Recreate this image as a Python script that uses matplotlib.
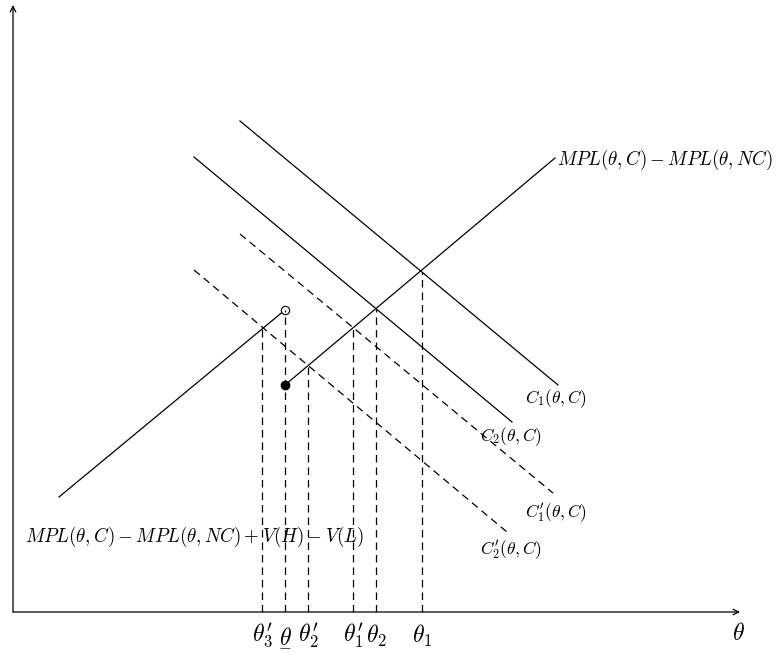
import matplotlib
matplotlib.use("Agg")
import matplotlib.pyplot as plt

plt.rcParams['mathtext.fontset'] = 'cm'

# coordinates measured from the origin of the diagram (pixel-like units)
mpl_hi_x = [272, 542]
mpl_hi_y = [227, 454]
mpl_lo_x = [46, 272]
mpl_lo_y = [115, 302]

c1_x = [227, 545]
c1_y = [491, 227]
c2_x = [181, 499]
c2_y = [455, 190]
c1p_x = [227, 540]
c1p_y = [378, 119]
c2p_x = [181, 494]
c2p_y = [342, 80]

drop_x = [249, 272, 295, 340, 363, 409]
drop_top = [285, 302, 246, 284, 303, 340]
drop_labels = [r"$\theta_3'$", r"$\underset{-}{\theta}$", r"$\theta_2'$",
               r"$\theta_1'$", r"$\theta_2$", r"$\theta_1$"]

x_end = 727
y_end = 607

fig = plt.figure(figsize=(7.79, 6.55), dpi=100)
ax = fig.add_axes([0, 0, 1, 1])
ax.set_xlim(-13, 766)
ax.set_ylim(-43, 612)
ax.axis("off")

lw = 0.9
dash = (6, 4)

# axes with arrows
ax.annotate("", xy=(x_end, 0), xytext=(0, 0),
            arrowprops=dict(arrowstyle="->", lw=lw, color="black", shrinkA=0, shrinkB=0))
ax.annotate("", xy=(0, y_end), xytext=(0, 0),
            arrowprops=dict(arrowstyle="->", lw=lw, color="black", shrinkA=0, shrinkB=0))

# MPL difference lines
ax.plot(mpl_hi_x, mpl_hi_y, color="black", lw=lw)
ax.plot(mpl_lo_x, mpl_lo_y, color="black", lw=lw)
ax.plot(mpl_hi_x[0], mpl_hi_y[0], "o", color="black", ms=6)
ax.plot(mpl_lo_x[1], mpl_lo_y[1], "o", mfc="white", mec="black", mew=0.8, ms=6)

# cost curves
ax.plot(c1_x, c1_y, color="black", lw=lw)
ax.plot(c2_x, c2_y, color="black", lw=lw)
ax.plot(c1p_x, c1p_y, color="black", lw=lw, dashes=dash)
ax.plot(c2p_x, c2p_y, color="black", lw=lw, dashes=dash)

# dashed drop lines and labels
for x, top, lab in zip(drop_x, drop_top, drop_labels):
    ax.plot([x, x], [0, top], color="black", lw=lw, dashes=dash)
    ax.text(x, -24, lab, ha="center", va="center", fontsize=17)

ax.text(725, -21, r"$\theta$", ha="center", va="center", fontsize=17)

small = 12.5
big_lab = 13.7
ax.text(544, 452, r"$MPL(\theta,C)-MPL(\theta,NC)$", ha="left", va="center", fontsize=big_lab)
ax.text(12, 75, r"$MPL(\theta,C)-MPL(\theta,NC)+V(H)-V(L)$", ha="left", va="center", fontsize=big_lab)
ax.text(512, 213, r"$C_1(\theta,C)$", ha="left", va="center", fontsize=small)
ax.text(467, 175, r"$C_2(\theta,C)$", ha="left", va="center", fontsize=small)
ax.text(512, 99, r"$C_1'(\theta,C)$", ha="left", va="center", fontsize=small)
ax.text(467, 62, r"$C_2'(\theta,C)$", ha="left", va="center", fontsize=small)

fig.savefig("out.png", dpi=100)
